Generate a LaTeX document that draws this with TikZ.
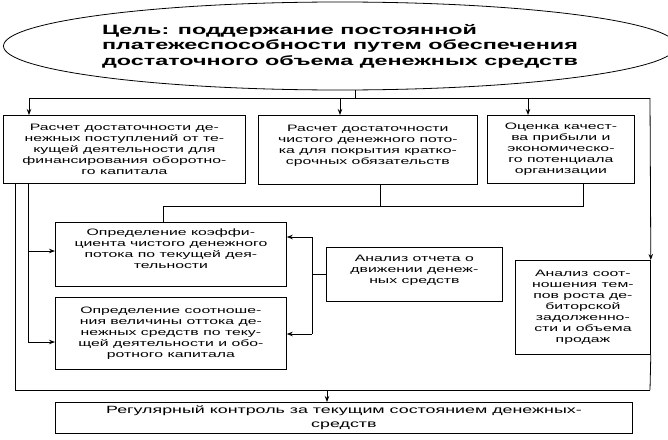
\documentclass[tikz,border=0pt]{standalone}
\usepackage{fontspec}
\newfontfamily\boxfont{Liberation Sans}[FakeStretch=1.7]
\newfontfamily\titlefont{Liberation Sans}[FakeStretch=1.73]
\usetikzlibrary{arrows.meta,shapes.geometric}
\begin{document}
\begin{tikzpicture}[x=1pt,y=-1pt,
  bx/.style={draw, line width=0.8pt, inner sep=0pt, align=center, anchor=north west,
    font=\boxfont\fontsize{9.3}{11}\selectfont},
  ttl/.style={draw, ellipse, line width=0.8pt, inner sep=0pt, align=left,
    font=\titlefont\bfseries\fontsize{13.5}{15.5}\selectfont},
  ln/.style={line width=0.8pt},
  arr/.style={line width=0.8pt, -{Stealth[length=6pt,width=4.5pt]}}]
\useasboundingbox (0,0) rectangle (668,439);

\node[ttl, minimum width=644, minimum height=88] (goal) at (340,46)
  {Цель: поддержание постоянной\\платежеспособности путем обеспечения\\достаточного объема денежных средств};

\node[bx, minimum width=242, minimum height=68] (b1) at (3,115)
  {Расчет достаточности де-\\нежных поступлений от те-\\кущей деятельности для\\финансирования оборотно-\\го капитала};
\node[bx, minimum width=219, minimum height=69] (b2) at (258,115)
  {Расчет достаточности\\чистого денежного пото-\\ка для покрытия кратко-\\срочных обязательств\\~};
\node[bx, minimum width=147, minimum height=68] (b3) at (487,115)
  {Оценка качест-\\ва прибыли и\\экономическо-\\го потенциала\\организации};
\node[bx, minimum width=231, minimum height=64] (b4) at (55,222)
  {Определение коэффи-\\циента чистого денежного\\потока по текущей дея-\\тельности\\~};
\node[bx, minimum width=231, minimum height=72] (b5) at (55,297)
  {Определение соотноше-\\ния величины оттока де-\\нежных средств по теку-\\щей деятельности и обо-\\ротного капитала};
\node[bx, minimum width=176, minimum height=54] (b6) at (326,247)
  {Анализ отчета о\\движении денеж-\\ных средств\\~};
\node[bx, minimum width=135, minimum height=94] (b7) at (515,260)
  {Анализ соот-\\ношения тем-\\пов роста де-\\биторской\\задолженно-\\сти и объема\\продаж};
\node[bx, minimum width=577, minimum height=31, font=\boxfont\fontsize{10.5}{14}\selectfont] (b8) at (55,402)
  {Регулярный контроль за текущим состоянием денежных-\\средств};

% top bus
\path (goal.south) ++(15,0) coordinate (stem);
\coordinate (busL) at (29,98);
\coordinate (busR) at (650,98);
\coordinate (a2) at (340,98);
\coordinate (a3) at (528,98);
\draw[ln] (stem) -- (stem |- busL);
\draw[ln] (busL) -- (busR);
\draw[arr] (busL) -- (busL |- b1.north);
\draw[arr] (a2) -- (a2 |- b2.north);
\draw[arr] (a3) -- (a3 |- b3.north);
\draw[arr] (busR) -- (b7.north east);

% left lines from b1
\coordinate (bl) at (15,390);
\coordinate (br) at (650,390);
\coordinate (j4) at (28,251);
\coordinate (j5) at (28,342);
\draw[ln] (bl |- b1.south) -- (bl);
\draw[ln] (j5 |- b1.south) -- (j5);
\draw[arr] (j4) -- (j4 -| b4.west);
\draw[arr] (j5) -- (j5 -| b5.west);

% b2, b3 to b4
\coordinate (s2) at (380,206);
\coordinate (s3) at (583,206);
\coordinate (s4) at (163,206);
\draw[ln] (s2 |- b2.south) -- (s2);
\draw[ln] (s3 |- b3.south) -- (s3) -- (s4) -- (s4 |- b4.north);

% b6 to b4, b5
\coordinate (v1) at (312,237);
\coordinate (v2) at (312,334);
\draw[ln] (v1) -- (v2);
\draw[arr] (v1) -- (v1 -| b4.east);
\draw[arr] (v2) -- (v2 -| b5.east);
\draw[ln] (v1 |- b6.west) -- (b6.west);

% bottom bus
\coordinate (a8) at (327,390);
\draw[ln] (b7.south east) -- (br);
\draw[ln] (bl) -- (br);
\draw[arr] (a8) -- (a8 |- b8.north);
\end{tikzpicture}
\end{document}
